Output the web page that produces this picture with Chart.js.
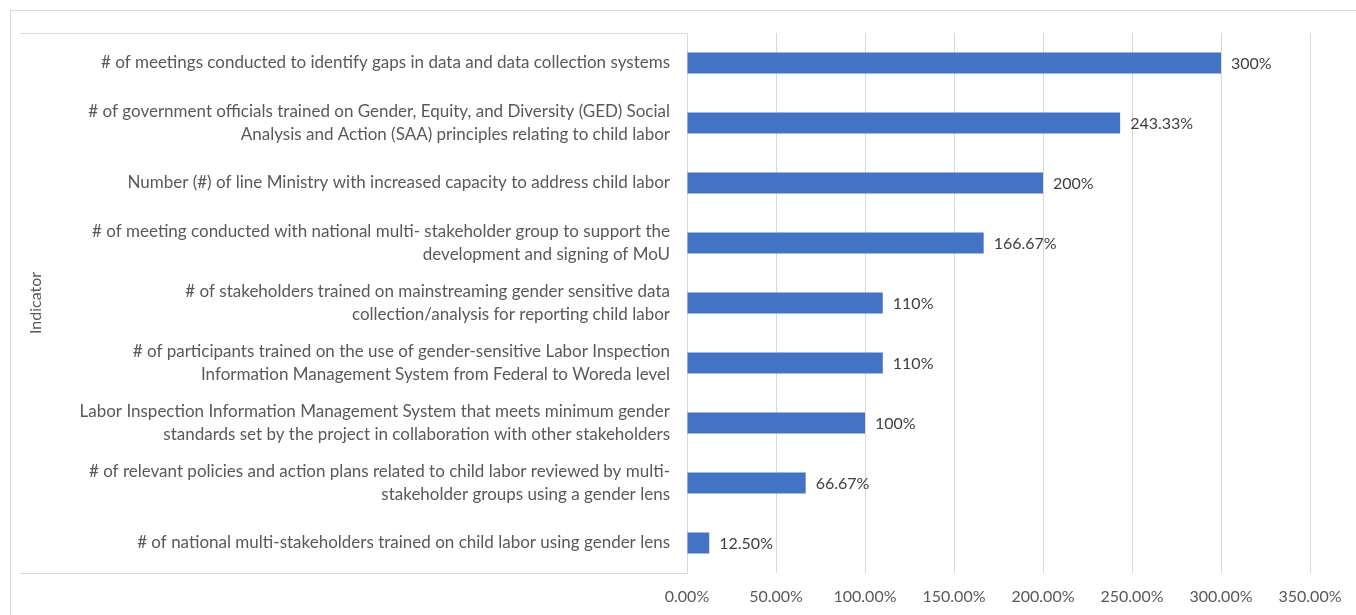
<!DOCTYPE html>
<html>
<head>
<meta charset="utf-8">
<script src="https://cdn.jsdelivr.net/npm/chart.js@4"></script>
<style>
  html, body { margin: 0; padding: 0; background: #fff; }
  #frame { position: absolute; left: 10px; top: 10px; right: 0; bottom: 0; border-top: 1px solid #d9d9d9; border-left: 1px solid #d9d9d9; }
  #wrap { position: absolute; left: 0; top: 0; width: 1356px; height: 615px; }
</style>
</head>
<body>
<div id="frame"></div>
<div id="wrap"><canvas id="chart" width="1356" height="615"></canvas></div>
<script>
const indicators = [
  '# of meetings conducted to identify gaps in data and data collection systems',
  ['# of government officials trained on Gender, Equity, and Diversity (GED) Social', 'Analysis and Action (SAA) principles relating to child labor'],
  'Number (#) of line Ministry with increased capacity to address child labor',
  ['# of meeting conducted with national multi- stakeholder group to support the', 'development and signing of MoU'],
  ['# of stakeholders trained on mainstreaming gender sensitive data', 'collection/analysis for reporting child labor'],
  ['# of participants trained on the use of gender-sensitive Labor Inspection', 'Information Management System from Federal to Woreda level'],
  ['Labor Inspection Information Management System that meets minimum gender', 'standards set by the project in collaboration with other stakeholders'],
  ['# of relevant policies and action plans related to child labor reviewed by multi-', 'stakeholder groups using a gender lens'],
  '# of national multi-stakeholders trained on child labor using gender lens'
];
const achievement = [300, 243.33, 200, 166.67, 110, 110, 100, 66.67, 12.5];
const axisMin = 0, axisMax = 350, axisStep = 50;

const FONT = 'Lato, "Liberation Sans", sans-serif';
const GRID = '#d9d9d9';

function pctLabel(v) {
  if (v === 12.5) return '12.50%';
  return (Number.isInteger(v) ? v : v.toFixed(2)) + '%';
}

const valueLabels = {
  id: 'valueLabels',
  afterDatasetsDraw(chart) {
    const ctx = chart.ctx;
    const meta = chart.getDatasetMeta(0);
    ctx.save();
    ctx.font = '16px ' + FONT;
    ctx.fillStyle = '#404040';
    ctx.textAlign = 'left';
    ctx.textBaseline = 'middle';
    meta.data.forEach((bar, i) => {
      ctx.fillText(pctLabel(achievement[i]), bar.x + 10, bar.y + 1);
    });
    ctx.restore();
  }
};

const labelBox = {
  id: 'labelBox',
  beforeDatasetsDraw(chart) {
    const ctx = chart.ctx;
    const a = chart.chartArea;
    const ys = chart.scales.y;
    ctx.save();
    ctx.strokeStyle = GRID;
    ctx.lineWidth = 1;
    ctx.beginPath();
    ctx.moveTo(ys.left + 4, a.top + 0.5);
    ctx.lineTo(a.left, a.top + 0.5);
    ctx.moveTo(ys.left + 4, a.bottom + 0.5);
    ctx.lineTo(a.left, a.bottom + 0.5);
    ctx.stroke();
    ctx.restore();
  }
};

new Chart(document.getElementById('chart'), {
  type: 'bar',
  data: {
    labels: indicators,
    datasets: [{
      data: achievement,
      backgroundColor: '#4472C4',
      borderWidth: 0,
      barPercentage: 0.35,
      categoryPercentage: 1
    }]
  },
  options: {
    indexAxis: 'y',
    responsive: false,
    animation: false,
    layout: { padding: { left: 16, right: 46, top: 33, bottom: 10 } },
    plugins: { legend: { display: false }, tooltip: { enabled: false } },
    scales: {
      x: {
        min: axisMin,
        max: axisMax,
        ticks: {
          stepSize: axisStep,
          padding: 14,
          color: '#595959',
          font: { family: FONT, size: 16 },
          callback: v => v.toFixed(2) + '%'
        },
        grid: { color: GRID, drawTicks: false },
        border: { display: false },
        afterFit(scale) { scale.height = 32; }
      },
      y: {
        ticks: {
          padding: 17,
          color: '#595959',
          font: { family: FONT, size: 17, lineHeight: 1.3 },
          autoSkip: false
        },
        grid: { display: false, drawTicks: false },
        border: { display: true, color: GRID },
        title: {
          display: true,
          text: 'Indicator',
          color: '#595959',
          font: { family: FONT, size: 16 },
          padding: { top: 10, bottom: 0 }
        },
        afterFit(scale) { scale.width = 671; }
      }
    }
  },
  plugins: [valueLabels, labelBox]
});
</script>
</body>
</html>
